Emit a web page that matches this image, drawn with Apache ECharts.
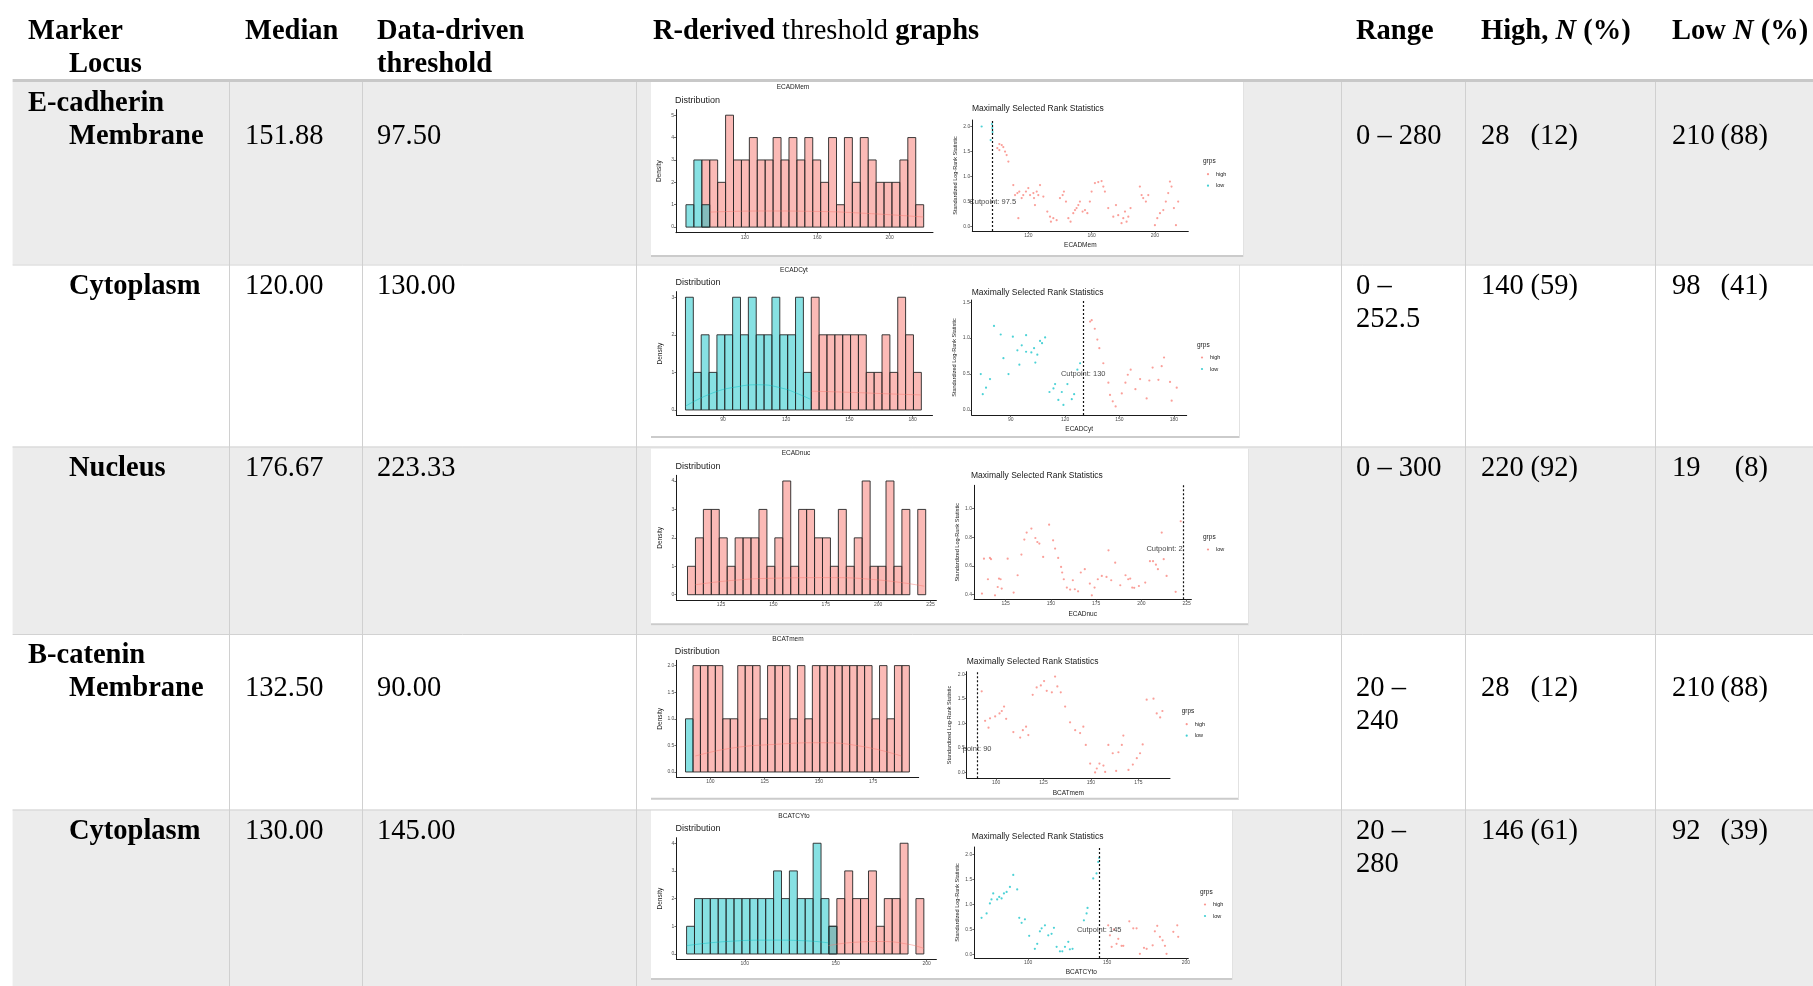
<!DOCTYPE html>
<html>
<head>
<meta charset="utf-8">
<title>Data-driven thresholds</title>
<script src="https://cdn.jsdelivr.net/npm/echarts@6/dist/echarts.min.js"></script>
<style>
  html, body { margin: 0; padding: 0; background: #fff; }
  #table, #plots { position: absolute; left: 0; top: 0; width: 1813px; height: 986px; }
  #plots { filter: blur(0.7px); }
</style>
</head>
<body>
<div id="table"></div>
<div id="plots"></div>
<script>
// ---------- table columns ----------
const markerNames = ['E-cadherin', '', '', 'B-catenin', ''];
const locusNames = ['Membrane', 'Cytoplasm', 'Nucleus', 'Membrane', 'Cytoplasm'];
const medianValues = ['151.88', '120.00', '176.67', '132.50', '130.00'];
const thresholdValues = ['97.50', '130.00', '223.33', '90.00', '145.00'];
const rangeLines = [['0 – 280'], ['0 –', '252.5'], ['0 – 300'], ['20 –', '240'], ['20 –', '280']];
const highCounts = ['28', '140', '220', '28', '146'];
const highPercents = ['12', '59', '92', '12', '61'];
const lowCounts = ['210', '98', '19', '210', '92'];
const lowPercents = ['88', '41', '8', '88', '39'];

// ---------- thumbnail plots ----------
const variableNames = ['ECADMem', 'ECADCyt', 'ECADnuc', 'BCATmem', 'BCATCYto'];
const cutpointValues = [97.5, 130, 223.33, 90, 145];
const cutpointLabels = ['Cutpoint: 97.5', 'Cutpoint: 130', 'Cutpoint: 2', 'point: 90', 'Cutpoint: 145'];
const cutpointLabelY = [0.49, 0.5, 0.72, 0.48, 0.48];
const legendGroups = [['high', 'low'], ['high', 'low'], ['low'], ['high', 'low'], ['high', 'low']];

// histogram bins: first edge and width of the 30 bins
const binStarts = [87.5, 72.2, 109.0, 88.5, 68.0];
const binWidths = [4.375, 3.73, 3.79, 3.44, 4.35];

const ecadMemHighBins = [0,0,3,3,2,5,3,3,4,3,3,4,3,4,3,4,3,2,4,1,4,2,4,3,2,2,2,3,4,1];
const ecadMemLowBins  = [1,3,1,0,0,0,0,0,0,0,0,0,0,0,0,0,0,0,0,0,0,0,0,0,0,0,0,0,0,0];
const ecadCytHighBins = [0,0,0,0,0,0,0,0,0,0,0,0,0,0,0,0,3,2,2,2,2,2,2,1,1,2,1,3,2,1];
const ecadCytLowBins  = [3,1,2,1,2,2,3,2,3,2,2,3,2,2,3,1,0,0,0,0,0,0,0,0,0,0,0,0,0,0];
const ecadNucHighBins = [1,2,3,3,2,1,2,2,2,3,1,2,4,1,3,3,2,2,1,3,1,2,4,1,1,4,1,3,0,3];
const ecadNucLowBins  = [0,0,0,0,0,0,0,0,0,0,0,0,0,0,0,0,0,0,0,0,0,0,0,0,0,0,0,0,0,0];
const bcatMemHighBins = [0,2,2,2,2,1,1,2,2,2,1,2,2,2,1,2,1,2,2,2,2,2,2,2,2,1,2,1,2,2];
const bcatMemLowBins  = [1,0,0,0,0,0,0,0,0,0,0,0,0,0,0,0,0,0,0,0,0,0,0,0,0,0,0,0,0,0];
const bcatCytHighBins = [0,0,0,0,0,0,0,0,0,0,0,0,0,0,0,0,0,0,1,2,3,2,2,3,1,2,2,4,0,2];
const bcatCytLowBins  = [1,2,2,2,2,2,2,2,2,2,2,3,2,3,2,2,4,2,1,0,0,0,0,0,0,0,0,0,0,0];

// density curves drawn over the histograms
const ecadMemHighDensity = [[100.7,0.67],[130,0.72],[160,0.7],[190,0.6],[218.7,0.45]];
const ecadMemLowDensity  = [];
const ecadCytHighDensity = [[132,0.5],[150,0.47],[168,0.43],[184,0.4]];
const ecadCytLowDensity  = [[72.2,0.1],[85,0.45],[97,0.62],[107,0.67],[118,0.58],[126,0.42],[132,0.27]];
const ecadNucHighDensity = [[112.7,0.35],[130,0.5],[150,0.58],[175,0.6],[200,0.52],[222,0.3]];
const ecadNucLowDensity  = [];
const bcatMemHighDensity = [[93,0.3],[110,0.45],[130,0.52],[150,0.55],[170,0.48],[188,0.3]];
const bcatMemLowDensity  = [];
const bcatCytHighDensity = [[146,0.3],[160,0.42],[175,0.45],[190,0.35],[198.5,0.2]];
const bcatCytLowDensity  = [[68,0.3],[90,0.45],[115,0.5],[135,0.47],[146,0.4]];

// maximally selected rank statistics: [cutpoint candidate, standardized statistic]
const ecadMemLowPoints = [[90.5,2.0],[96.2,1.73],[97.0,2.05],[97.2,1.97],[97.4,1.89]];
const ecadMemHighPoints = [
  [100.4,1.57],[101.7,1.65],[101.7,1.53],[103.2,1.63],[104.2,1.59],[105.3,1.50],[106.3,1.43],[107.4,1.30],
  [110.5,0.83],[111.6,0.63],[113.1,0.67],[113.7,0.17],[114.3,0.70],[115.8,0.57],[116.8,0.63],[118.5,0.70],
  [120.0,0.77],[121.1,0.63],[123.2,0.67],[123.6,0.57],[124.2,0.43],[125.3,0.70],[126.3,0.63],[127.4,0.83],
  [129.5,0.60],[132.0,0.30],[133.7,0.20],[134.3,0.10],[135.8,0.17],[137.9,0.13],[140.0,0.57],[141.7,0.63],
  [142.5,0.70],[143.8,0.50],[145.3,0.17],[146.7,0.10],[148.4,0.27],[149.5,0.33],[150.5,0.37],[151.6,0.43],
  [152.6,0.50],[154.3,0.30],[155.8,0.33],[157.3,0.27],[158.9,0.50],[160.0,0.70],[162.1,0.87],[164.2,0.89],
  [166.3,0.91],[167.4,0.80],[168.4,0.70],[170.5,0.37],[173.7,0.20],[175.4,0.43],[176.8,0.23],[178.9,0.07],
  [180.0,0.17],[181.1,0.30],[182.1,0.10],[183.2,0.20],[184.6,0.37],[190.5,0.80],[191.6,0.63],[192.6,0.57],
  [194.3,0.50],[195.8,0.63],[200.0,0.03],[201.5,0.17],[203.2,0.27],[205.3,0.33],[206.9,0.50],[208.4,0.67],
  [209.5,0.90],[210.5,0.80],[212.0,0.37],[213.3,0.03],[214.7,0.50]
];
const ecadCytLowPoints = [
  [73.5,0.50],[74.6,0.22],[76.4,0.31],[78.6,0.43],[80.8,1.17],[84.5,1.05],[86.0,0.72],[88.8,0.50],
  [91.2,1.02],[93.7,0.83],[94.8,0.63],[96.1,0.90],[98.5,1.04],[98.5,0.81],[101.4,0.80],[102.9,0.86],
  [103.6,0.66],[104.7,0.77],[106.2,0.96],[107.3,0.93],[109.0,1.01],[111.4,0.25],[113.6,0.30],[114.5,0.36],
  [116.3,0.14],[118.2,0.25],[119.1,0.07],[121.3,0.36],[123.7,0.15],[125.0,0.22],[126.8,0.56],[128.3,0.65]
];
const ecadCytHighPoints = [
  [133.8,1.23],[134.7,1.25],[136.4,1.13],[137.8,0.98],[138.9,0.86],[141.1,0.65],[143.9,0.38],[144.8,0.21],
  [146.3,0.12],[147.9,0.05],[151.3,0.23],[153.3,0.38],[154.6,0.49],[156.2,0.56],[158.8,0.29],[161.4,0.43],
  [165.0,0.16],[166.5,0.41],[168.3,0.59],[171.5,0.42],[173.3,0.61],[174.6,0.73],[177.9,0.39],[178.8,0.13],
  [181.6,0.31]
];
const ecadNucLowPoints = [
  [111.9,0.407],[113.0,0.651],[115.2,0.507],[116.3,0.656],[116.9,0.647],[119.1,0.395],[120.6,0.453],[121.3,0.512],
  [122.2,0.507],[122.8,0.442],[126.1,0.651],[129.4,0.414],[131.6,0.535],[133.7,0.679],[135.3,0.784],[136.6,0.833],
  [139.2,0.861],[141.4,0.795],[142.5,0.767],[143.6,0.756],[145.7,0.663],[149.0,0.888],[151.2,0.779],[152.3,0.721],
  [154.0,0.656],[155.6,0.593],[156.2,0.554],[157.1,0.507],[158.8,0.449],[160.6,0.435],[162.1,0.500],[163.2,0.437],
  [165.0,0.423],[166.5,0.554],[168.7,0.577],[171.5,0.477],[172.6,0.395],[174.1,0.449],[175.9,0.507],[178.1,0.530],
  [180.7,0.523],[181.8,0.709],[183.3,0.500],[185.5,0.623],[188.3,0.465],[191.2,0.535],[192.7,0.507],[193.8,0.512],
  [194.9,0.449],[196.0,0.447],[198.6,0.460],[202.1,0.484],[204.7,0.633],[206.4,0.633],[208.0,0.609],[209.1,0.577],
  [211.2,0.833],[212.3,0.647],[213.9,0.530],[218.9,0.419],[221.7,0.912]
];
const ecadNucHighPoints = [];
const bcatMemLowPoints = [];
const bcatMemHighPoints = [
  [92.4,1.65],[94.2,1.05],[96.0,0.91],[96.8,1.10],[99.5,1.14],[101.8,1.20],[103.0,1.25],[104.2,1.34],
  [105.3,1.09],[109.1,0.82],[112.7,0.71],[114.1,0.86],[115.8,0.93],[117.0,0.76],[119.3,1.58],[121.4,1.73],
  [123.6,1.77],[125.3,1.86],[126.7,1.66],[129.4,1.63],[131.1,1.95],[132.3,1.75],[134.1,1.63],[136.4,1.34],
  [139.0,1.02],[141.7,0.86],[144.3,0.80],[146.0,0.93],[147.3,0.56],[149.6,0.18],[152.2,0.00],[153.1,0.08],
  [154.5,0.18],[156.6,0.14],[157.5,0.01],[159.2,0.56],[161.5,0.39],[163.3,0.03],[164.5,0.41],[166.3,0.56],
  [167.1,0.75],[169.8,0.05],[172.1,0.16],[174.2,0.29],[175.9,0.39],[177.3,0.57],[179.4,1.48],[183.0,1.50],
  [184.7,1.20],[186.5,1.12],[187.7,1.25]
];
const bcatCytLowPoints = [
  [70.4,0.73],[73.6,0.82],[75.7,1.02],[76.7,1.10],[77.8,1.22],[80.3,1.10],[81.6,1.15],[83.1,1.12],
  [84.6,1.22],[86.3,1.25],[88.4,1.35],[90.5,1.59],[93.0,1.30],[94.3,0.73],[95.8,0.63],[97.9,0.70],
  [100.6,0.37],[104.2,0.11],[105.7,0.21],[107.4,0.46],[108.5,0.52],[110.6,0.58],[112.7,0.38],[114.8,0.41],
  [116.3,0.53],[118.0,0.15],[120.1,0.06],[121.6,0.06],[123.3,0.15],[125.4,0.25],[126.4,0.10],[128.1,0.11],
  [135.3,0.68],[137.0,0.82],[137.6,0.93],[141.2,1.52],[143.3,1.62],[144.4,1.85],[145.0,1.93]
];
const bcatCytHighPoints = [
  [150.7,0.58],[151.8,0.38],[152.9,0.15],[154.3,0.50],[156.0,0.21],[157.1,0.31],[159.2,0.17],[160.3,0.17],
  [164.1,0.66],[166.6,0.52],[168.7,0.52],[170.8,0.01],[173.4,0.13],[175.1,0.11],[178.9,0.18],[180.3,0.46],
  [181.8,0.57],[183.5,0.35],[185.2,0.28],[186.7,0.17],[187.7,0.01],[192.0,0.45],[194.5,0.58],[195.1,0.35]
];

// axis tick labels
const histXTicks = [[120,160,200], [90,120,150,180], [125,150,175,200,225], [100,125,150,175], [100,150,200]];
const histYTicks = [[0,1,2,3,4,5], [0,1,2,3], [0,1,2,3,4], [0,0.5,1,1.5,2], [0,1,2,3,4]];
const scatXTicks = [[120,160,200], [90,120,150,180], [125,150,175,200,225], [100,125,150,175], [100,150,200]];
const scatYTicks = [[0,0.5,1,1.5,2], [0,0.5,1,1.5], [0.4,0.6,0.8,1.0], [0,0.5,1,1.5,2], [0,0.5,1,1.5,2]];

const highBins = [ecadMemHighBins, ecadCytHighBins, ecadNucHighBins, bcatMemHighBins, bcatCytHighBins];
const lowBins = [ecadMemLowBins, ecadCytLowBins, ecadNucLowBins, bcatMemLowBins, bcatCytLowBins];
const highDensity = [ecadMemHighDensity, ecadCytHighDensity, ecadNucHighDensity, bcatMemHighDensity, bcatCytHighDensity];
const lowDensity = [ecadMemLowDensity, ecadCytLowDensity, ecadNucLowDensity, bcatMemLowDensity, bcatCytLowDensity];
const highPoints = [ecadMemHighPoints, ecadCytHighPoints, ecadNucHighPoints, bcatMemHighPoints, bcatCytHighPoints];
const lowPoints = [ecadMemLowPoints, ecadCytLowPoints, ecadNucLowPoints, bcatMemLowPoints, bcatCytLowPoints];

// ---------- layout ----------
const SERIF = '"Liberation Serif", "Times New Roman", serif';
const SANS = '"Liberation Sans", Arial, sans-serif';
const FS = 28.5;
const RED = '#F8766D', BLUE = '#00BFC4';
const TABLE_LEFT = 12.6;
const rowTops = [82, 264.5, 446.5, 634, 809.5, 986];
const colLines = [229, 362, 636, 1341, 1465, 1655];
const thumbBoxes = [
  [651, 82, 593, 175], [651, 265, 589, 173], [651, 448.7, 598, 176.6], [651, 634.7, 588, 165], [651, 810, 582, 170]
];

const panelLayout = [
  { hist: [676, 109.6, 257, 123.1], histX: [82.0, 223.9], histY: [-0.25, 5.25],
    scat: [972.3, 120, 216, 111], scatX: [84.6, 221.1], scatY: [-0.087, 2.13],
    varTitle: [793, 87.3], distTitle: [675, 100.7], scatTitle: [972, 109], legend: [1203, 161.7], labelPos: 'inside' },
  { hist: [676.4, 291.6, 256.1, 124], histX: [67.9, 189.4], histY: [-0.15, 3.15],
    scat: [971.7, 300, 215, 115], scatX: [68.5, 187.1], scatY: [-0.07, 1.53],
    varTitle: [794, 270], distTitle: [675.6, 282.7], scatTitle: [971.7, 292.5], legend: [1197, 345], labelPos: 'inside' },
  { hist: [676.4, 475.3, 260, 125.1], histX: [103.7, 227.8], histY: [-0.2, 4.2],
    scat: [974, 485.3, 217.4, 114], scatX: [107.5, 227.6], scatY: [0.367, 1.163],
    varTitle: [796, 453.7], distTitle: [675.6, 467], scatTitle: [971, 475.3], legend: [1203, 537], labelPos: 'left' },
  { hist: [676.4, 660.3, 242.3, 117], histX: [84.3, 196], histY: [-0.1, 2.1],
    scat: [966.7, 671.7, 203.3, 106.6], scatX: [84.5, 191.7], scatY: [-0.12, 2.05],
    varTitle: [788, 639.7], distTitle: [674.8, 651.3], scatTitle: [966.7, 661.7], legend: [1181.7, 711.7], labelPos: 'inside' },
  { hist: [676.4, 837.7, 260, 121.8], histX: [62.4, 205.4], histY: [-0.2, 4.2],
    scat: [974.3, 847, 214, 111], scatX: [65.8, 201.5], scatY: [-0.074, 2.15],
    varTitle: [794, 816], distTitle: [675.6, 828.3], scatTitle: [971.7, 837], legend: [1200, 892], labelPos: 'inside' }
];

// ---------- table layer ----------
function cellText(x, y, text, bold, extra) {
  const font = (bold ? 'bold ' : '') + FS + 'px ' + SERIF;
  const style = Object.assign({
    text: text, x: 0, y: 0, fill: '#000', font: font,
    align: 'left', textAlign: 'left', verticalAlign: 'middle', textVerticalAlign: 'middle'
  }, extra || {});
  return { type: 'text', x: x, y: y, silent: true, z: 10, style: style };
}

const tableEls = [];
// shaded rows
[0, 2, 4].forEach(r => {
  tableEls.push({ type: 'rect', silent: true, z: 1,
    shape: { x: TABLE_LEFT, y: rowTops[r], width: 1813 - TABLE_LEFT, height: rowTops[r + 1] - rowTops[r] },
    style: { fill: '#ececec' } });
});
// thumbnail frames
thumbBoxes.forEach(b => {
  tableEls.push({ type: 'rect', silent: true, z: 2, shape: { x: b[0], y: b[1], width: b[2], height: b[3] },
    style: { fill: '#ffffff' } });
  tableEls.push({ type: 'rect', silent: true, z: 3, shape: { x: b[0], y: b[1] + b[3] - 2, width: b[2], height: 2 },
    style: { fill: '#cbcbcb' } });
  tableEls.push({ type: 'rect', silent: true, z: 3, shape: { x: b[0] + b[2] - 1, y: b[1], width: 1, height: b[3] },
    style: { fill: '#e2e2e2' } });
});
// header rule
tableEls.push({ type: 'rect', silent: true, z: 4, shape: { x: TABLE_LEFT, y: 79, width: 1813 - TABLE_LEFT, height: 3 },
  style: { fill: '#c8c8c8' } });
// row separators
[1, 2, 3, 4].forEach(r => {
  tableEls.push({ type: 'line', silent: true, z: 4,
    shape: { x1: TABLE_LEFT, y1: rowTops[r] + 0.5, x2: 1813, y2: rowTops[r] + 0.5 },
    style: { stroke: '#d2d2d2', lineWidth: 1 } });
});
// column separators
colLines.forEach(x => {
  tableEls.push({ type: 'line', silent: true, z: 4,
    shape: { x1: x + 0.5, y1: 82, x2: x + 0.5, y2: 986 },
    style: { stroke: '#d0d0d0', lineWidth: 1 } });
});

// header
const H1 = 31.5, H2 = 65;
const boldFont = 'bold ' + FS + 'px ' + SERIF;
const regFont = FS + 'px ' + SERIF;
const boldItalicFont = 'bold italic ' + FS + 'px ' + SERIF;
tableEls.push(cellText(28, H1, 'Marker', true));
tableEls.push(cellText(69, H2, 'Locus', true));
tableEls.push(cellText(245, H1, 'Median', true));
tableEls.push(cellText(377, H1, 'Data-driven', true));
tableEls.push(cellText(377, H2, 'threshold', true));
tableEls.push(cellText(653, H1, '{b|R-derived}{r| threshold }{b|graphs}', true,
  { rich: { b: { font: boldFont, fill: '#000' }, r: { font: regFont, fill: '#000' } } }));
tableEls.push(cellText(1356, H1, 'Range', true));
tableEls.push(cellText(1481, H1, '{b|High, }{i|N}{b| (%)}', true,
  { rich: { b: { font: boldFont, fill: '#000' }, i: { font: boldItalicFont, fill: '#000' } } }));
tableEls.push(cellText(1672, H1, '{b|Low }{i|N}{b| (%)}', true,
  { rich: { b: { font: boldFont, fill: '#000' }, i: { font: boldItalicFont, fill: '#000' } } }));

// body rows
for (let r = 0; r < 5; r++) {
  const line1 = rowTops[r] + 21.8;
  const line2 = line1 + 33;
  const hasMarker = markerNames[r] !== '';
  const valueY = hasMarker ? line2 : line1;
  if (hasMarker) tableEls.push(cellText(28, line1, markerNames[r], true));
  tableEls.push(cellText(69, valueY, locusNames[r], true));
  tableEls.push(cellText(245, valueY, medianValues[r], false));
  tableEls.push(cellText(377, valueY, thresholdValues[r], false));
  rangeLines[r].forEach((t, k) => tableEls.push(cellText(1356, valueY + k * 33, t, false)));
  tableEls.push(cellText(1481, valueY, highCounts[r], false));
  tableEls.push(cellText(1578, valueY, '(' + highPercents[r] + ')', false, { align: 'right', textAlign: 'right' }));
  tableEls.push(cellText(1672, valueY, lowCounts[r], false));
  tableEls.push(cellText(1768, valueY, '(' + lowPercents[r] + ')', false, { align: 'right', textAlign: 'right' }));
}

const tableChart = echarts.init(document.getElementById('table'), null, { renderer: 'canvas' });
tableChart.setOption({ animation: false, backgroundColor: '#ffffff', graphic: { elements: tableEls } });

// ---------- plot layer ----------
function renderBin(params, api) {
  const n = api.value(2);
  if (!n) return null;
  const topLeft = api.coord([api.value(0), n]);
  const bottomRight = api.coord([api.value(1), 0]);
  return {
    type: 'rect',
    shape: { x: topLeft[0], y: topLeft[1], width: bottomRight[0] - topLeft[0], height: bottomRight[1] - topLeft[1] },
    style: { fill: api.visual('color'), stroke: '#262626', lineWidth: 0.9 }
  };
}

function binData(counts, start, width) {
  return counts.map((c, i) => [start + i * width, start + (i + 1) * width, c]);
}

function axisCommon(ticks, decimals) {
  return {
    axisLine: { show: true, onZero: false, lineStyle: { color: '#1a1a1a', width: 1 } },
    axisTick: { show: true, customValues: ticks, length: 2, lineStyle: { color: '#333', width: 0.7 } },
    axisLabel: { show: true, customValues: ticks, fontSize: 5, color: '#4d4d4d', margin: 2, fontFamily: SANS,
      formatter: v => decimals ? Number(v).toFixed(decimals) : String(v) },
    splitLine: { show: false }
  };
}

const grids = [], xAxes = [], yAxes = [], series = [], plotEls = [];

function miniText(x, y, text, size, extra) {
  return { type: 'text', x: x, y: y, silent: true,
    style: Object.assign({ text: text, x: 0, y: 0, fill: '#1a1a1a', font: size + 'px ' + SANS,
      align: 'left', textAlign: 'left', verticalAlign: 'middle', textVerticalAlign: 'middle' }, extra || {}) };
}

panelLayout.forEach((L, r) => {
  const gHist = grids.length;
  grids.push({ left: L.hist[0], top: L.hist[1], width: L.hist[2], height: L.hist[3], containLabel: false, outerBoundsMode: 'none' });
  const gScat = grids.length;
  grids.push({ left: L.scat[0], top: L.scat[1], width: L.scat[2], height: L.scat[3], containLabel: false, outerBoundsMode: 'none' });

  const yDec = histYTicks[r].some(v => v % 1 !== 0) ? 1 : 0;
  xAxes.push(Object.assign({ type: 'value', gridIndex: gHist, min: L.histX[0], max: L.histX[1] }, axisCommon(histXTicks[r], 0)));
  yAxes.push(Object.assign({ type: 'value', gridIndex: gHist, min: L.histY[0], max: L.histY[1],
    name: 'Density', nameLocation: 'middle', nameGap: 13,
    nameTextStyle: { fontSize: 6.5, color: '#1a1a1a', fontFamily: SANS } }, axisCommon(histYTicks[r], yDec)));
  xAxes.push(Object.assign({ type: 'value', gridIndex: gScat, min: L.scatX[0], max: L.scatX[1],
    name: variableNames[r], nameLocation: 'middle', nameGap: 11,
    nameTextStyle: { fontSize: 6.5, color: '#1a1a1a', fontFamily: SANS } }, axisCommon(scatXTicks[r], 0)));
  yAxes.push(Object.assign({ type: 'value', gridIndex: gScat, min: L.scatY[0], max: L.scatY[1],
    name: 'Standardized Log-Rank Statistic', nameLocation: 'middle', nameGap: 14,
    nameTextStyle: { fontSize: 5.5, color: '#1a1a1a', fontFamily: SANS } }, axisCommon(scatYTicks[r], 1)));

  const xi = gHist, si = gScat;
  // histogram bars, high group then low group on top
  series.push({ type: 'custom', name: 'high', xAxisIndex: xi, yAxisIndex: xi, renderItem: renderBin, clip: false,
    encode: { x: [0, 1], y: 2 }, itemStyle: { color: 'rgba(248,118,109,0.5)' },
    data: binData(highBins[r], binStarts[r], binWidths[r]) });
  series.push({ type: 'custom', name: 'low', xAxisIndex: xi, yAxisIndex: xi, renderItem: renderBin, clip: false,
    encode: { x: [0, 1], y: 2 }, itemStyle: { color: 'rgba(0,191,196,0.47)' },
    data: binData(lowBins[r], binStarts[r], binWidths[r]) });
  if (highDensity[r].length) series.push({ type: 'line', xAxisIndex: xi, yAxisIndex: xi, smooth: true, showSymbol: false,
    lineStyle: { color: RED, width: 1, opacity: 0.45 }, data: highDensity[r], silent: true });
  if (lowDensity[r].length) series.push({ type: 'line', xAxisIndex: xi, yAxisIndex: xi, smooth: true, showSymbol: false,
    lineStyle: { color: BLUE, width: 1, opacity: 0.45 }, data: lowDensity[r], silent: true });

  // rank statistics
  const singleGroup = legendGroups[r].length === 1;
  series.push({ type: 'scatter', name: 'high', xAxisIndex: si, yAxisIndex: si, symbolSize: 2.2, clip: false,
    itemStyle: { color: RED, opacity: 0.7 }, data: highPoints[r],
    markLine: { silent: true, symbol: ['none', 'none'], label: { show: false }, animation: false,
      lineStyle: { color: '#111', type: [2, 2], width: 1.2 }, data: [{ xAxis: cutpointValues[r] }] } });
  series.push({ type: 'scatter', name: 'low', xAxisIndex: si, yAxisIndex: si, symbolSize: 2.2, clip: false,
    itemStyle: { color: singleGroup ? RED : BLUE, opacity: 0.7 }, data: lowPoints[r] });
  series.push({ type: 'scatter', xAxisIndex: si, yAxisIndex: si, symbolSize: 0, silent: true, clip: false,
    data: [[cutpointValues[r], cutpointLabelY[r]]],
    label: { show: true, position: L.labelPos, distance: 1, formatter: cutpointLabels[r],
      fontSize: 7.5, color: '#111', fontFamily: SANS } });

  // panel titles
  plotEls.push(miniText(L.varTitle[0], L.varTitle[1], variableNames[r], 6.5, { align: 'center', textAlign: 'center' }));
  plotEls.push(miniText(L.distTitle[0], L.distTitle[1], 'Distribution', 9));
  plotEls.push(miniText(L.scatTitle[0], L.scatTitle[1], 'Maximally Selected Rank Statistics', 8.5));

  // group legend
  const lx = L.legend[0], ly = L.legend[1];
  plotEls.push(miniText(lx, ly, 'grps', 6.5));
  legendGroups[r].forEach((g, k) => {
    const color = singleGroup ? RED : (g === 'high' ? RED : BLUE);
    plotEls.push({ type: 'circle', silent: true, shape: { cx: lx + 5, cy: ly + 12.5 + k * 11.5, r: 1.1 },
      style: { fill: color, opacity: 0.75 } });
    plotEls.push(miniText(lx + 13, ly + 12.5 + k * 11.5, g, 5.5));
  });
});

const plotChart = echarts.init(document.getElementById('plots'), null, { renderer: 'canvas' });
plotChart.setOption({
  animation: false,
  backgroundColor: 'transparent',
  grid: grids,
  xAxis: xAxes,
  yAxis: yAxes,
  series: series,
  graphic: { elements: plotEls }
});
</script>
</body>
</html>
